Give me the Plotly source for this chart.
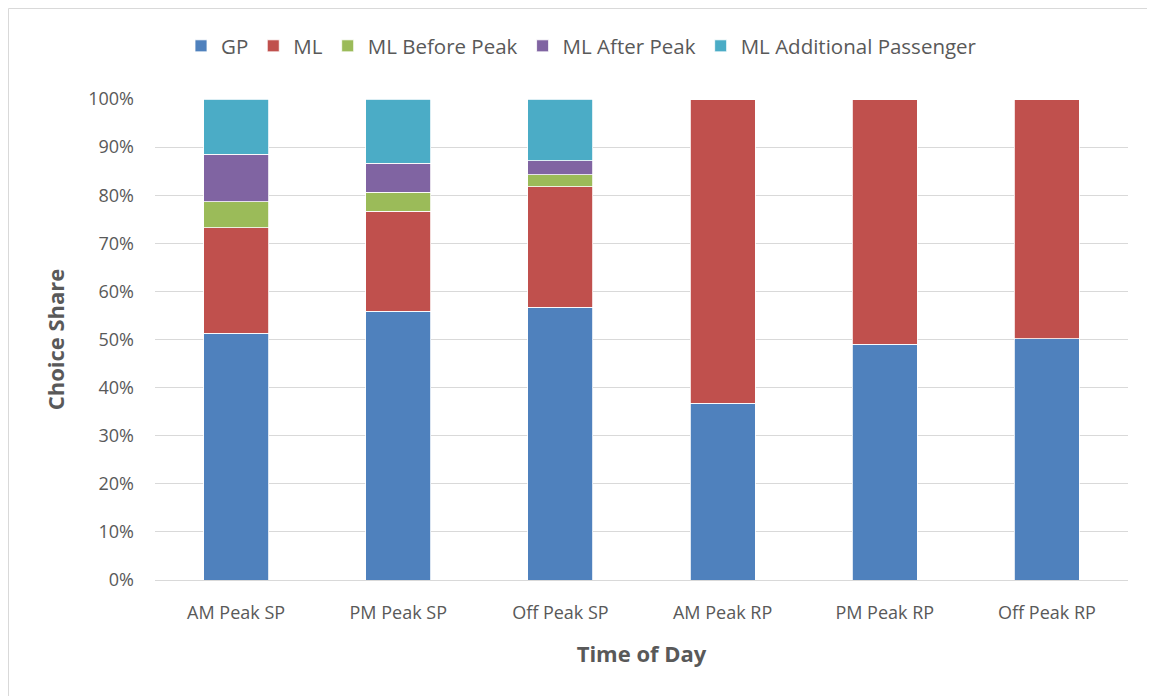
import plotly.graph_objects as go

categories = ["AM Peak SP", "PM Peak SP", "Off Peak SP", "AM Peak RP", "PM Peak RP", "Off Peak RP"]
gp = [51.3, 55.9, 56.7, 36.7, 49.0, 50.2]
ml = [21.9, 20.8, 25.1, 63.3, 51.0, 49.8]
ml_before = [5.4, 3.9, 2.5, 0, 0, 0]
ml_after = [9.9, 6.0, 2.9, 0, 0, 0]
ml_add = [11.5, 13.4, 12.8, 0, 0, 0]
y_ticks = [0, 10, 20, 30, 40, 50, 60, 70, 80, 90, 100]
y_tick_labels = [f"{v}%" for v in y_ticks]

series = [
    ("GP", gp, "#4f81bd"),
    ("ML", ml, "#c0504d"),
    ("ML Before Peak", ml_before, "#9bbb59"),
    ("ML After Peak", ml_after, "#8064a2"),
    ("ML Additional Passenger", ml_add, "#4bacc6"),
]

fig = go.Figure()
for name, vals, color in series:
    fig.add_trace(go.Bar(
        name=name, x=categories, y=vals,
        marker=dict(color=color, line=dict(color="white", width=0.8)),
    ))

L, R, T, B = 147, 27, 91, 116
W, H = 1147, 688
pw, ph = W - L - R, H - T - B

font = "Open Sans, Segoe UI, sans-serif"
fig.update_layout(
    barmode="stack",
    bargap=0.6,
    width=W, height=H,
    margin=dict(l=L, r=R, t=T, b=B, autoexpand=False),
    paper_bgcolor="white", plot_bgcolor="white",
    font=dict(family=font, color="#595959", size=18),
    legend=dict(orientation="h", x=(W / 2 - L) / pw, xanchor="center",
                y=1 + (T - 38) / ph, yanchor="middle",
                font=dict(size=20.5, color="#595959"), traceorder="normal"),
    xaxis=dict(showgrid=False, showline=True, linecolor="#d9d9d9", linewidth=1,
               tickfont=dict(size=18, color="#595959"), ticks="", ticklabelstandoff=16,
               title=dict(text="<b>Time of Day</b>", font=dict(size=22, color="#595959"), standoff=24)),
    yaxis=dict(range=[0, 100], tickvals=y_ticks, ticktext=y_tick_labels,
               showgrid=True, gridcolor="#d9d9d9", gridwidth=1, zeroline=False,
               tickfont=dict(size=18, color="#595959"), ticklabelstandoff=20,
               title=dict(text="<b>Choice Share</b>", font=dict(size=22, color="#595959"), standoff=17)),
    shapes=[dict(type="rect", xref="paper", yref="paper",
                 x0=(0.5 - L) / pw, x1=1 + (R + 10) / pw, y0=-(B + 10) / ph, y1=1 + (T - 0.5) / ph,
                 line=dict(color="#d9d9d9", width=1), fillcolor="rgba(0,0,0,0)", layer="below")],
)
fig.write_html("out.html")
